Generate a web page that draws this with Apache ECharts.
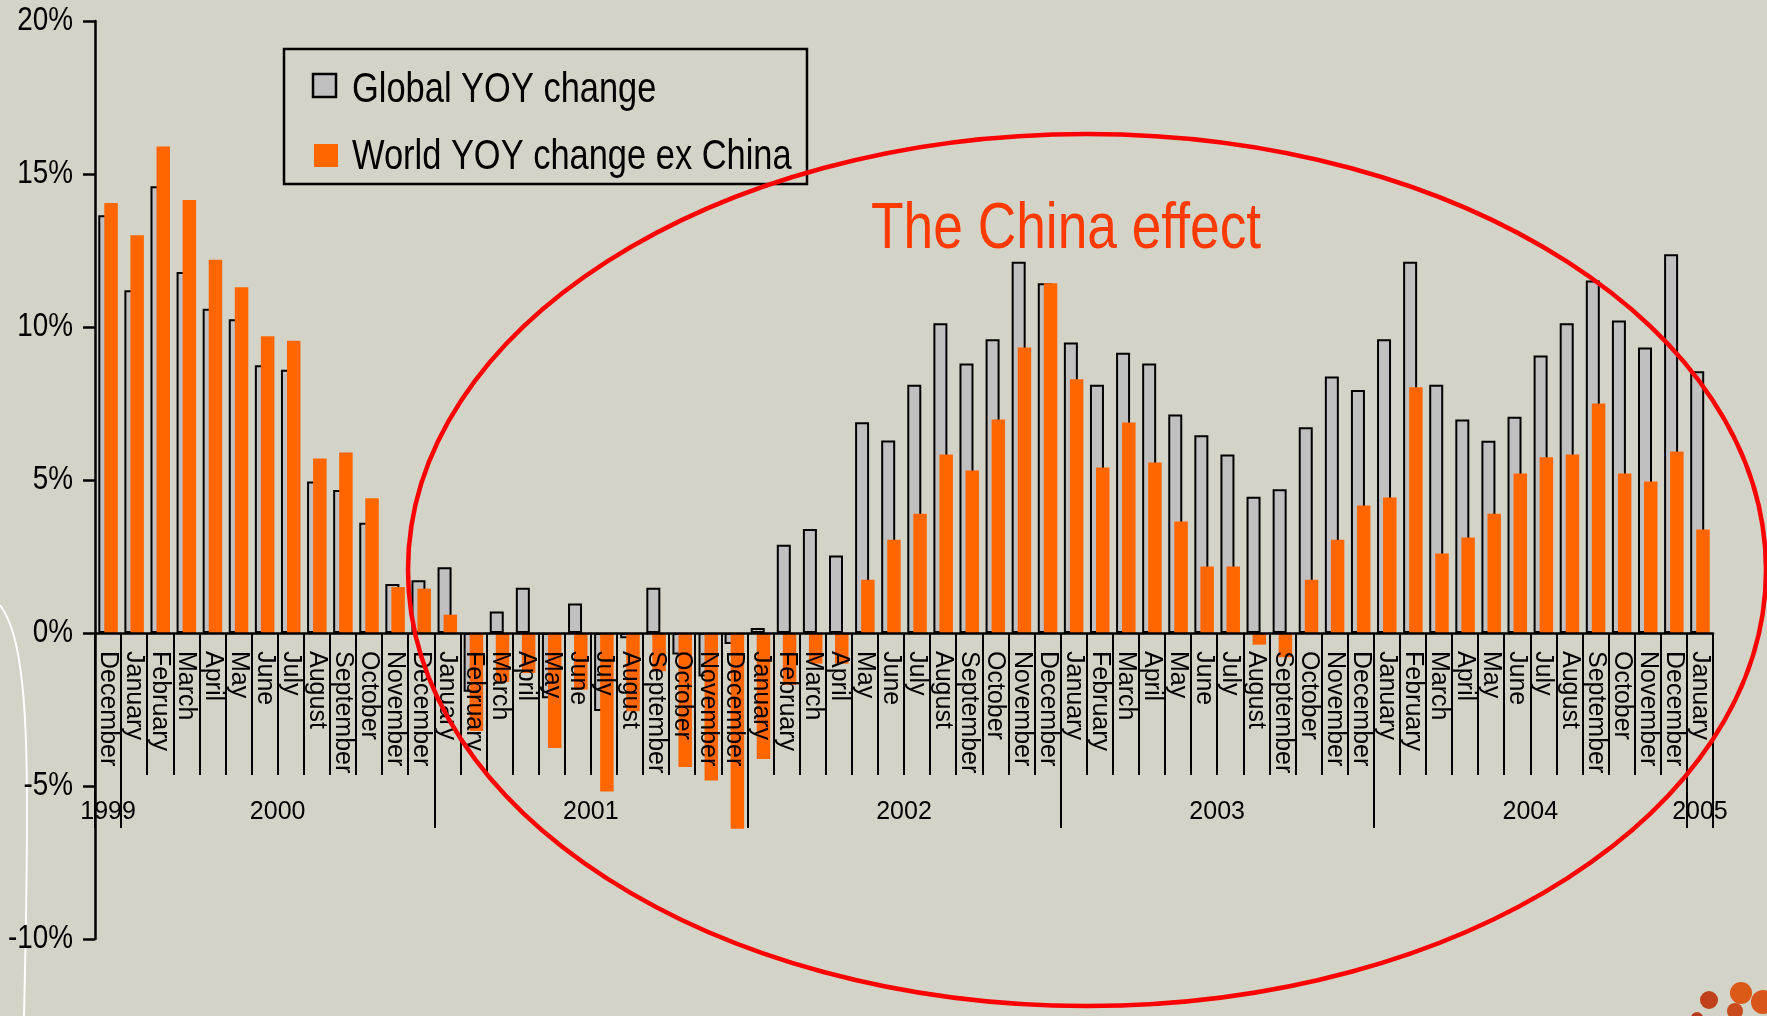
<!DOCTYPE html>
<html>
<head>
<meta charset="utf-8">
<script src="https://cdn.jsdelivr.net/npm/echarts@6/dist/echarts.min.js"></script>
<style>
  html, body { margin: 0; padding: 0; background: #d3d3c7; }
  #chart { width: 1767px; height: 1016px; }
</style>
</head>
<body>
<div id="chart"></div>
<script>
// Month categories: December 1999 through January 2005
const MONTHS = ['January', 'February', 'March', 'April', 'May', 'June', 'July',
  'August', 'September', 'October', 'November', 'December'];
const categories = ['December', ...MONTHS, ...MONTHS, ...MONTHS, ...MONTHS, ...MONTHS, 'January'];

// Year groups on the second label row: [label, number of months]
const yearGroups = [['1999', 1], ['2000', 12], ['2001', 12], ['2002', 12], ['2003', 12], ['2004', 12], ['2005', 1]];

// Year-on-year change, %
const globalYoy = [
  13.65,
  11.2, 14.6, 11.8, 10.6, 10.25, 8.75, 8.6, 4.95, 4.67, 3.6, 1.6, 1.72,
  2.15, -1.92, 0.7, 1.48, -2.13, 0.96, -2.55, -0.17, 1.48, -0.7, -1.42, -0.36,
  0.16, 2.88, 3.4, 2.53, 6.89, 6.29, 8.11, 10.12, 8.81, 9.6, 12.13, 11.43,
  9.49, 8.11, 9.16, 8.81, 7.14, 6.46, 5.83, 4.45, 4.7, 6.72, 8.38, 7.94,
  9.6, 12.13, 8.11, 6.98, 6.28, 7.07, 9.07, 10.12, 11.52, 10.21, 9.33, 12.38,
  8.55
];
const exChinaYoy = [
  14.05,
  13.0, 15.9, 14.15, 12.2, 11.3, 9.7, 9.55, 5.7, 5.9, 4.4, 1.5, 1.45,
  0.6, -3.2, -1.6, -1.31, -3.76, -1.85, -5.18, -2.56, -1.25, -4.38, -4.82, -6.4,
  -4.12, -1.7, -1.0, -1.0, 1.74, 3.05, 3.9, 5.83, 5.31, 6.98, 9.33, 11.43,
  8.29, 5.41, 6.88, 5.57, 3.64, 2.17, 2.17, -0.38, -0.79, 1.74, 3.05, 4.17,
  4.43, 8.03, 2.6, 3.12, 3.9, 5.21, 5.74, 5.83, 7.5, 5.21, 4.95, 5.93,
  3.38
];

const seriesNames = ['Global YOY change', 'World YOY change ex China'];
const seriesColors = ['#c0c0c0', '#ff6600'];

// Value axis ticks
const yTickValues = [-10, -5, 0, 5, 10, 15, 20];
const yTickLabels = ['-10%', '-5%', '0%', '5%', '10%', '15%', '20%'];

const REGULAR = "'Liberation Sans', Arial, sans-serif";
const NARROW_SCALE = 0.82;   // horizontal squeeze for the condensed captions

// Year row uses half-month slots so each year label sits at the middle of its span
const slotCount = categories.length * 2 + 1;
const slotLabels = new Array(slotCount).fill('');
const yearBoundary = new Set();
let start = 0;
yearGroups.forEach(([label, count]) => {
  yearBoundary.add(start * 2);
  slotLabels[start * 2 + count] = label;
  start += count;
});
yearBoundary.add(start * 2);
const slotKeys = slotLabels.map((_, i) => 's' + i);

const GRID_LEFT = 95, GRID_RIGHT = 54, GRID_TOP = 21, GRID_BOTTOM = 77;
const yMin = yTickValues[0], yMax = yTickValues[yTickValues.length - 1];
const plotH = 1016 - GRID_TOP - GRID_BOTTOM;
const zeroY = GRID_TOP + plotH * (yMax / (yMax - yMin));

const chart = echarts.init(document.getElementById('chart'), null, { renderer: 'canvas' });

chart.setOption({
  backgroundColor: '#d3d3c7',
  animation: false,
  grid: [
    { left: GRID_LEFT, right: GRID_RIGHT, top: GRID_TOP, bottom: GRID_BOTTOM },
    { left: GRID_LEFT, right: GRID_RIGHT, top: zeroY, height: 260 }
  ],
  xAxis: [
    {
      type: 'category', gridIndex: 0, data: categories,
      axisLine: { show: false, onZero: false }, axisTick: { show: false }, axisLabel: { show: false }
    },
    {
      type: 'category', gridIndex: 1, position: 'top', data: categories, z: 5,
      axisLine: { show: true, onZero: false, lineStyle: { color: '#000', width: 2.5 } },
      axisTick: { show: true, inside: true, interval: 0, length: 142, lineStyle: { color: '#000', width: 2 } },
      axisLabel: {
        inside: true, interval: 0, rotate: 90, margin: 18,
        fontFamily: REGULAR, fontSize: 25, color: '#000'
      }
    },
    {
      type: 'category', gridIndex: 1, position: 'top', data: slotKeys, boundaryGap: false, z: 5,
      axisLine: { show: false, onZero: false },
      axisTick: {
        show: true, inside: true, length: 195,
        interval: (i) => yearBoundary.has(i),
        lineStyle: { color: '#000', width: 2 }
      },
      axisLabel: {
        inside: true, interval: 0, margin: 167,
        formatter: (v, i) => slotLabels[i],
        fontFamily: REGULAR, fontSize: 25, color: '#000'
      }
    }
  ],
  yAxis: [
    {
      type: 'value', gridIndex: 0, min: yMin, max: yMax, interval: 5,
      axisLine: { show: true, lineStyle: { color: '#000', width: 2.5 } },
      axisTick: { show: true, length: 12, lineStyle: { color: '#000', width: 2.5 } },
      axisLabel: { show: false },
      splitLine: { show: false }
    },
    { type: 'value', gridIndex: 1, show: false, min: 0, max: 1 }
  ],
  series: [
    {
      name: seriesNames[0], type: 'bar', xAxisIndex: 0, yAxisIndex: 0,
      data: globalYoy, barWidth: 14,
      itemStyle: { color: seriesColors[0], borderColor: '#000', borderWidth: 2 }
    },
    {
      name: seriesNames[1], type: 'bar', xAxisIndex: 0, yAxisIndex: 0,
      data: exChinaYoy, barWidth: 13.5, barGap: '-57%',
      itemStyle: { color: seriesColors[1] }
    }
  ]
});

// Condensed text: regular face squeezed horizontally
function narrowText(x, y, text, size, fill, align) {
  return {
    type: 'text', z: 100, silent: true, x: x, y: y, scaleX: NARROW_SCALE,
    style: { text: text, fill: fill, font: size + 'px ' + REGULAR, align: align, verticalAlign: 'middle' }
  };
}

// Value-axis tick labels, placed through the axis scale
const yLabelEls = yTickValues.map((v, i) =>
  narrowText(GRID_LEFT - 22, chart.convertToPixel({ yAxisIndex: 0 }, v), yTickLabels[i], 34, '#000', 'right'));

chart.setOption({
  graphic: [
    ...yLabelEls,
    // legend
    {
      type: 'rect', z: 10, silent: true,
      shape: { x: 284, y: 49, width: 523, height: 135 },
      style: { fill: 'none', stroke: '#000', lineWidth: 2.5 }
    },
    {
      type: 'rect', z: 10, silent: true,
      shape: { x: 313, y: 74, width: 23, height: 23 },
      style: { fill: seriesColors[0], stroke: '#000', lineWidth: 2.5 }
    },
    {
      type: 'rect', z: 10, silent: true,
      shape: { x: 314, y: 144, width: 24, height: 23 },
      style: { fill: seriesColors[1] }
    },
    narrowText(352, 90, seriesNames[0], 42, '#000', 'left'),
    narrowText(352, 157, seriesNames[1], 42, '#000', 'left'),
    // highlight ring around 2001-2005
    {
      type: 'ellipse', z: 100, silent: true,
      shape: { cx: 1087, cy: 570, rx: 679, ry: 436 },
      style: { fill: 'none', stroke: '#ff0000', lineWidth: 4.5 }
    },
    narrowText(871, 230, 'The China effect', 65, '#ff3a00', 'left'),
    // slide background accents
    {
      type: 'bezierCurve', z: 1, silent: true,
      shape: { x1: 0, y1: 605, cpx1: 30, cpy1: 645, cpx2: 30, cpy2: 760, x2: 24, y2: 1016 },
      style: { fill: 'none', stroke: '#ffffff', lineWidth: 2 }
    },
    { type: 'circle', z: 1, silent: true, shape: { cx: 1709, cy: 1000, r: 9 }, style: { fill: '#c0401c' } },
    { type: 'circle', z: 1, silent: true, shape: { cx: 1741, cy: 993, r: 11 }, style: { fill: '#dc5a18' } },
    { type: 'circle', z: 1, silent: true, shape: { cx: 1735, cy: 1011, r: 8 }, style: { fill: '#c94a1c' } },
    { type: 'circle', z: 1, silent: true, shape: { cx: 1763, cy: 1002, r: 12 }, style: { fill: '#d8561a' } },
    { type: 'circle', z: 1, silent: true, shape: { cx: 1697, cy: 1018, r: 6 }, style: { fill: '#b93a1c' } }
  ]
});
</script>
</body>
</html>
